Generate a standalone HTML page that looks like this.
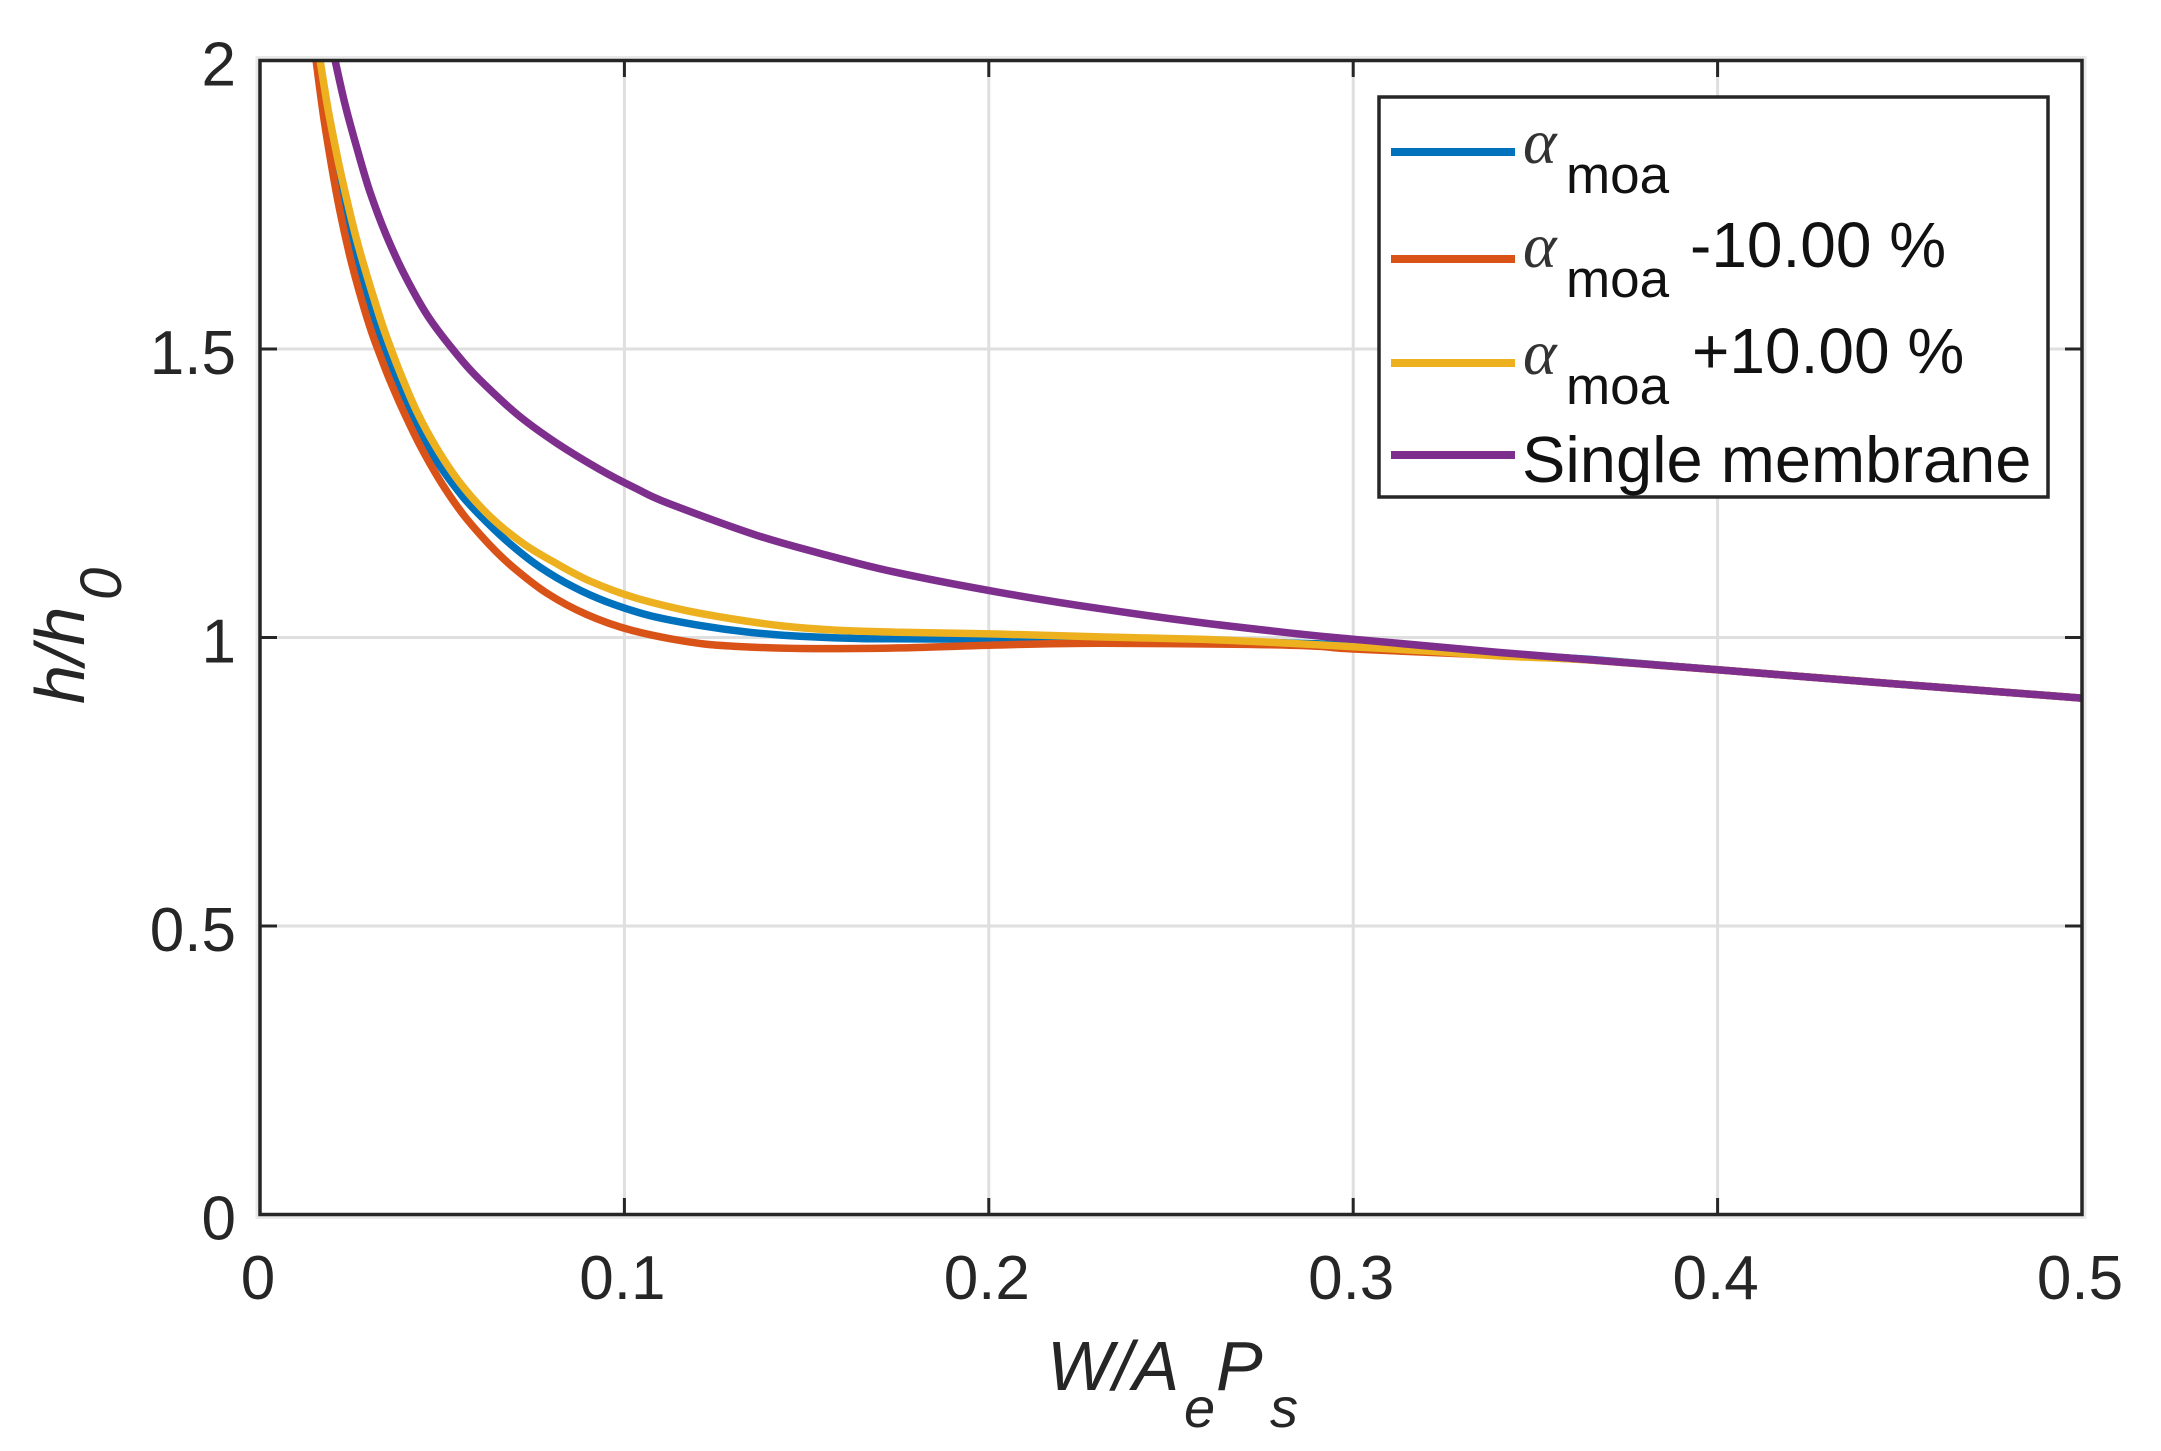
<!DOCTYPE html>
<html lang="en">
<head>
<meta charset="utf-8">
<title>h/h0 versus W/AePs</title>
<style>
html,body{margin:0;padding:0;background:#fff;}
svg{display:block;font-family:"Liberation Sans",sans-serif;}
</style>
</head>
<body>
<svg id="chart" xmlns="http://www.w3.org/2000/svg" width="2161" height="1451" viewBox="0 0 2161 1451">
  <defs><clipPath id="plot-clip"><rect x="260" y="60" width="1822" height="1155"/></clipPath></defs>
  <rect x="0" y="0" width="2161" height="1451" fill="#fff"/>
  <rect x="260" y="60.5" width="1822" height="1154" fill="none" stroke="#e9e9e9" stroke-width="9"/>
  <rect x="260" y="60.5" width="1822" height="1154" fill="#fff"/>
  <g id="grid"></g>
  <g id="series" clip-path="url(#plot-clip)"></g>
  <rect x="260" y="60.5" width="1822" height="1154" fill="none" stroke="#262626" stroke-width="3.5"/>
  <g id="ticks"></g>
  <g id="tick-labels" font-size="62" fill="#262626"></g>

  <g fill="#262626" font-style="italic">
    <text x="1047" y="1390" font-size="70">W/A</text>
    <text x="1184" y="1427" font-size="56">e</text>
    <text x="1216" y="1390" font-size="70">P</text>
    <text x="1270" y="1427" font-size="56">s</text>
  </g>
  <g fill="#262626" font-style="italic">
    <text transform="translate(84,704) rotate(-90)" font-size="70">h/h</text>
    <text transform="translate(121,600) rotate(-90)" font-size="58">0</text>
  </g>

  <g>
    <rect x="1379" y="97" width="669" height="400" fill="#fff" stroke="#262626" stroke-width="3.5"/>
    <g>
      <line x1="1391" x2="1515" y1="152" y2="152" stroke="#0072bd" stroke-width="8"/>
      <text x="1523" y="163" font-size="64" font-family="'Liberation Serif',serif" font-style="italic" fill="#333">α</text>
      <text x="1566" y="193" font-size="53" fill="#111">moa</text>
    </g>
    <g>
      <line x1="1391" x2="1515" y1="259" y2="259" stroke="#d95319" stroke-width="8"/>
      <text x="1523" y="267" font-size="64" font-family="'Liberation Serif',serif" font-style="italic" fill="#333">α</text>
      <text x="1566" y="297" font-size="53" fill="#111">moa</text>
      <text x="1690" y="267" font-size="64" fill="#111">-10.00 %</text>
    </g>
    <g>
      <line x1="1391" x2="1515" y1="363" y2="363" stroke="#edb120" stroke-width="8"/>
      <text x="1523" y="374" font-size="64" font-family="'Liberation Serif',serif" font-style="italic" fill="#333">α</text>
      <text x="1566" y="404" font-size="53" fill="#111">moa</text>
      <text x="1692" y="373" font-size="64" fill="#111">+10.00 %</text>
    </g>
    <g>
      <line x1="1391" x2="1515" y1="455" y2="455" stroke="#7e2f8e" stroke-width="8"/>
      <text x="1522" y="482" font-size="65" fill="#111">Single membrane</text>
    </g>
  </g>
</svg>
<script>
const xTicks = [0, 0.1, 0.2, 0.3, 0.4, 0.5];
const yTicks = [0, 0.5, 1, 1.5, 2];
const xTickLabels = ["0", "0.1", "0.2", "0.3", "0.4", "0.5"];
const yTickLabels = ["0", "0.5", "1", "1.5", "2"];

const blueX = [0.0162, 0.0205, 0.0250, 0.0300, 0.0350, 0.0402, 0.0448, 0.0494, 0.0558, 0.0622, 0.0694, 0.0768, 0.0859, 0.0951, 0.1070, 0.1207, 0.1344, 0.1481, 0.1665, 0.2022, 0.2300, 0.2600, 0.2900, 0.3100, 0.3400, 0.3650, 0.4000, 0.4500, 0.5000];
const blueY = [2.0, 1.820, 1.685, 1.570, 1.480, 1.405, 1.347, 1.297, 1.243, 1.200, 1.158, 1.122, 1.088, 1.062, 1.038, 1.021, 1.009, 1.002, 0.998, 0.997, 0.996, 0.994, 0.989, 0.982, 0.971, 0.962, 0.944, 0.919, 0.895];

const orangeX = [0.0154, 0.0174, 0.0197, 0.0219, 0.0247, 0.0279, 0.0306, 0.0334, 0.0357, 0.0393, 0.0439, 0.0494, 0.0558, 0.0631, 0.0694, 0.0787, 0.0896, 0.1023, 0.1180, 0.1298, 0.1481, 0.1756, 0.2022, 0.2304, 0.2708, 0.2900, 0.3000, 0.3400, 0.3650, 0.4000, 0.4500, 0.5000];
const orangeY = [2.0, 1.905, 1.815, 1.740, 1.660, 1.585, 1.530, 1.482, 1.445, 1.393, 1.333, 1.272, 1.213, 1.160, 1.122, 1.077, 1.040, 1.012, 0.992, 0.985, 0.981, 0.982, 0.987, 0.990, 0.988, 0.985, 0.980, 0.969, 0.961, 0.944, 0.919, 0.895];

const yellowX = [0.0165, 0.0187, 0.0215, 0.0238, 0.0265, 0.0297, 0.0329, 0.0348, 0.0384, 0.0430, 0.0485, 0.0549, 0.0631, 0.0722, 0.0814, 0.0905, 0.1023, 0.1160, 0.1298, 0.1435, 0.1572, 0.1756, 0.2022, 0.2304, 0.2579, 0.2763, 0.3001, 0.3218, 0.3402, 0.3650, 0.4000, 0.4500, 0.5000];
const yellowY = [2.0, 1.915, 1.825, 1.760, 1.690, 1.620, 1.555, 1.520, 1.460, 1.392, 1.328, 1.268, 1.210, 1.163, 1.128, 1.098, 1.070, 1.048, 1.032, 1.020, 1.013, 1.009, 1.006, 1.001, 0.997, 0.992, 0.984, 0.976, 0.968, 0.961, 0.944, 0.919, 0.895];

const purpleX = [0.0206, 0.0233, 0.0265, 0.0302, 0.0348, 0.0402, 0.0466, 0.0557, 0.0622, 0.0713, 0.0814, 0.0933, 0.1033, 0.1119, 0.1364, 0.1572, 0.1737, 0.2022, 0.2304, 0.2579, 0.2853, 0.2999, 0.3402, 0.4000, 0.4500, 0.5000];
const purpleY = [2.0, 1.925, 1.850, 1.772, 1.695, 1.622, 1.552, 1.478, 1.435, 1.383, 1.337, 1.291, 1.258, 1.233, 1.177, 1.140, 1.114, 1.079, 1.050, 1.026, 1.006, 0.997, 0.974, 0.944, 0.919, 0.895];

const SVG_NS = "http://www.w3.org/2000/svg";
const xScale = function (v) { return 260 + (v / 0.5) * 1822; };
const yScale = function (v) { return 1214.5 - (v / 2) * 1154; };

function make(tag, attrs, parent) {
  const el = document.createElementNS(SVG_NS, tag);
  Object.keys(attrs).forEach(function (k) { el.setAttribute(k, attrs[k]); });
  parent.appendChild(el);
  return el;
}

const gridGroup = document.getElementById("grid");
const tickGroup = document.getElementById("ticks");
const labelGroup = document.getElementById("tick-labels");
const seriesGroup = document.getElementById("series");

xTicks.forEach(function (t, i) {
  const px = xScale(t);
  if (t > 0 && t < 0.5) {
    const g = make("line", { x1: px, x2: px, y1: 60.5, y2: 1214.5, stroke: "#dfdfdf", "stroke-width": 3 }, gridGroup);
    
    
    const a = make("line", { x1: px, x2: px, y1: 1214.5, y2: 1198, stroke: "#262626", "stroke-width": 3 }, tickGroup);
    
    
    const b = make("line", { x1: px, x2: px, y1: 60.5, y2: 77, stroke: "#262626", "stroke-width": 3 }, tickGroup);
    
    
  }
  const lab = make("text", { x: px - 2, y: 1299, "text-anchor": "middle" }, labelGroup);
  lab.textContent = xTickLabels[i];
  
  
});

yTicks.forEach(function (t, i) {
  const py = yScale(t);
  if (t > 0 && t < 2) {
    const g = make("line", { x1: 260, x2: 2082, y1: py, y2: py, stroke: "#dfdfdf", "stroke-width": 3 }, gridGroup);
    
    
    const a = make("line", { x1: 260, x2: 277, y1: py, y2: py, stroke: "#262626", "stroke-width": 3 }, tickGroup);
    
    
    const b = make("line", { x1: 2082, x2: 2065, y1: py, y2: py, stroke: "#262626", "stroke-width": 3 }, tickGroup);
    
    
  }
  const lab = make("text", { x: 236, y: py + 25, "text-anchor": "end" }, labelGroup);
  lab.textContent = yTickLabels[i];
  
  
});

function smoothPath(xs, ys) {
  const pts = xs.map(function (x, i) { return [xScale(x), yScale(ys[i])]; });
  let d = "M" + pts[0][0].toFixed(1) + " " + pts[0][1].toFixed(1);
  for (let i = 0; i < pts.length - 1; i++) {
    const p0 = pts[Math.max(i - 1, 0)];
    const p1 = pts[i];
    const p2 = pts[i + 1];
    const p3 = pts[Math.min(i + 2, pts.length - 1)];
    const c1x = p1[0] + (p2[0] - p0[0]) / 6;
    const c1y = p1[1] + (p2[1] - p0[1]) / 6;
    const c2x = p2[0] - (p3[0] - p1[0]) / 6;
    const c2y = p2[1] - (p3[1] - p1[1]) / 6;
    d += "C" + c1x.toFixed(1) + " " + c1y.toFixed(1) + " " + c2x.toFixed(1) + " " + c2y.toFixed(1) + " " + p2[0].toFixed(1) + " " + p2[1].toFixed(1);
  }
  return d;
}

function drawSeries(xs, ys, color) {
  return make("path", { d: smoothPath(xs, ys), fill: "none", stroke: color, "stroke-width": 7.5, "stroke-linejoin": "round" }, seriesGroup);
}

const blueLine = drawSeries(blueX, blueY, "#0072bd");


const orangeLine = drawSeries(orangeX, orangeY, "#d95319");


const yellowLine = drawSeries(yellowX, yellowY, "#edb120");


const purpleLine = drawSeries(purpleX, purpleY, "#7e2f8e");


</script>
</body>
</html>
